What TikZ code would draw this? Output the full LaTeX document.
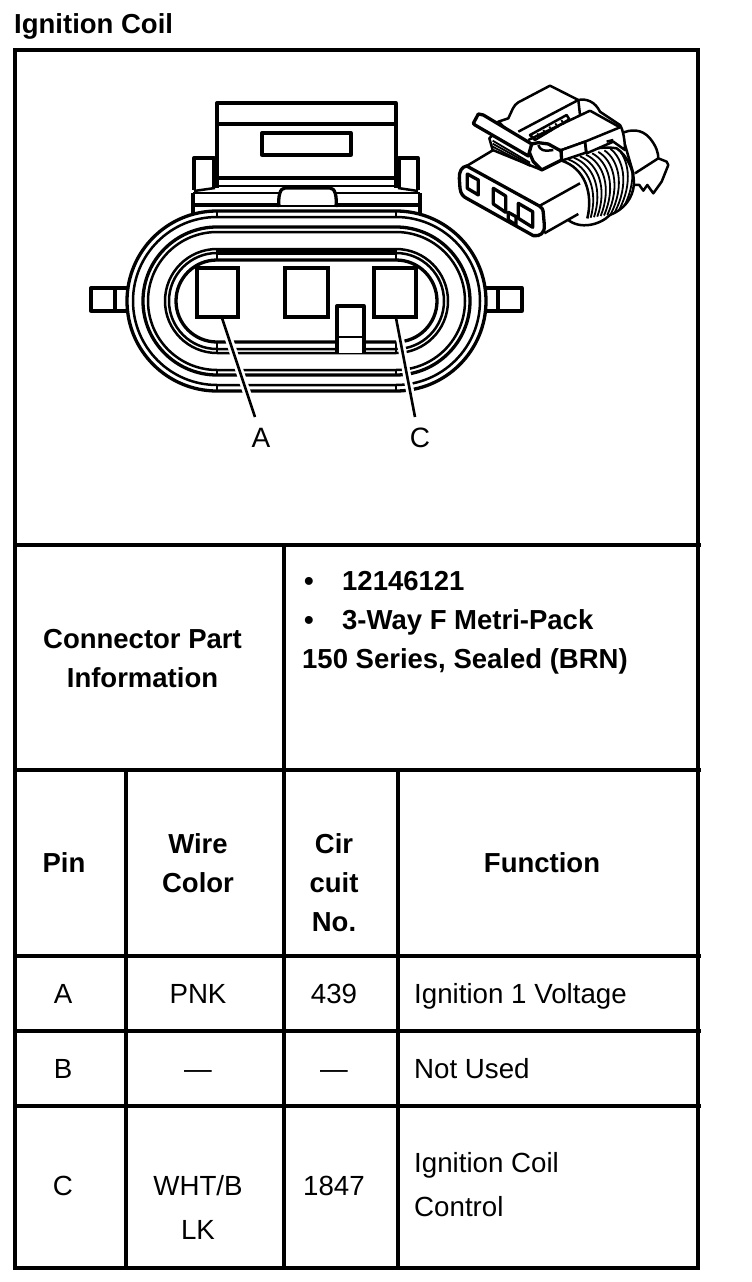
\documentclass[tikz,border=0pt]{standalone}
\usepackage{fontspec}
\setmainfont{Liberation Sans}
\tikzset{
 grid/.style={line width=3.4pt,black,line cap=rect},
 thick2/.style={line width=3.3pt,black,line join=round},
 med/.style={line width=2.5pt,black,line join=round},
 thin1/.style={line width=1.8pt,black,line join=round},
 hd/.style={font=\fontsize{27.5}{39}\selectfont\bfseries,align=center,inner sep=0pt,anchor=center},
 hl/.style={font=\fontsize{27.5}{33}\selectfont\bfseries,anchor=base west,inner sep=0pt},
 cell/.style={font=\fontsize{27.7}{44}\selectfont,inner sep=0pt,anchor=base},
 cellm/.style={font=\fontsize{27.7}{44}\selectfont,align=center,inner sep=0pt,anchor=center},
 celll/.style={font=\fontsize{27.7}{44}\selectfont,inner sep=0pt,anchor=base west},
 calloutline/.style={line width=2.6pt,black},
 halo/.style={line width=8pt,white},
 pinbox/.style={line width=3.3pt,black,fill=white},
 stad/.style={insert path={(217,301-#1) -- (396,301-#1) arc[start angle=-90,end angle=90,radius=#1] -- (217,301+#1) arc[start angle=90,end angle=270,radius=#1] -- cycle}},
}
\begin{document}
\begin{tikzpicture}[x=1pt,y=-1pt]
\useasboundingbox (0,0) rectangle (752,1282);
\node[hl] (title) at (14,33) {Ignition Coil};
% table
\draw[grid] (15,50) rectangle (698,1268);
\draw[grid] (15,545) -- (699,545);
\draw[grid] (15,770) -- (699,770);
\draw[grid] (15,956) -- (699,956);
\draw[grid] (15,1031) -- (699,1031);
\draw[grid] (15,1106) -- (699,1106);
\draw[grid] (284,545) -- (284,1268);
\draw[grid] (126,770) -- (126,1268);
\draw[grid] (398,770) -- (398,1268);
% table text
\node[hd] (cp) at (142.5,658.5) {Connector Part\\Information};
\node[hl] (b1) at (304,590) {•};
\node[hl] (t1) at (342,590) {12146121};
\node[hl] (b2) at (304,629) {•};
\node[hl] (t2) at (342,629) {3-Way F Metri-Pack};
\node[hl] (t3) at (302,668) {150 Series, Sealed (BRN)};
\node[hd] (h1) at (64,863) {Pin};
\node[hd] (h2) at (198,863) {Wire\\Color};
\node[hd] (h3) at (334,883) {Cir\\cuit\\No.};
\node[hd] (h4) at (542,863) {Function};
\node[cell] (a1) at (63,1003) {A};
\node[cell] (a2) at (198,1003) {PNK};
\node[cell] (a3) at (334,1003) {439};
\node[celll] (a4) at (414,1003) {Ignition 1 Voltage};
\node[cell] (b1c) at (63,1078) {B};
\node[cell] (b2c) at (198,1078) {—};
\node[cell] (b3c) at (334,1078) {—};
\node[celll] (b4c) at (414,1078) {Not Used};
\node[cell] (c1) at (63,1195) {C};
\node[cellm] (c2) at (198,1207) {WHT/B\\LK};
\node[cell] (c3) at (334,1195) {1847};
\node[cellm,align=left,anchor=west] (c4) at (414,1185) {Ignition Coil\\Control};
% front view: ears
\draw[thick2,fill=white] (91,288) rectangle (130,311);
\draw[thick2] (115,288) -- (115,311);
\draw[thick2,fill=white] (522,288) rectangle (483,311);
\draw[thick2] (498,288) -- (498,311);
% head
\draw[thick2,fill=white] (217,188) -- (217,103) -- (396,103) -- (396,188);
\draw[thick2] (217,124) -- (396,124);
\draw[thick2] (262,133) rectangle (351,155);
\draw[thick2] (217,178) -- (396,178);
\draw[med] (217,186) -- (396,186);
\draw[thick2] (214,188) -- (214,158) -- (194,158) -- (194,190);
\draw[thick2] (399,188) -- (399,158) -- (418,158) -- (418,190);
\draw[med] (194,191) -- (215,188);
\draw[med] (398,188) -- (418,191);
% band
\draw[thick2] (193,193) -- (193,213);
\draw[thick2] (420,193) -- (420,213);
\draw[med] (193,193) -- (279,193);
\draw[med] (336,193) -- (420,193);
\draw[thick2] (193,205) -- (279,205);
\draw[thick2] (336,205) -- (420,205);
\draw[thick2,fill=white] (279,207) .. controls (278,196) and (280,188) .. (285,188) -- (330,188) .. controls (335,188) and (337,196) .. (336,207);
\draw[med] (217,206) -- (396,206);
% rings
\draw[thick2,fill=white,stad=90];
\draw[med,stad=84];
\draw[thick2,stad=74];
\draw[med,stad=69];
\draw[med,stad=52];
\draw[med,stad=48];
\draw[thick2,stad=41];
\draw[line width=7pt] (217,251) -- (396,251);
% ticks
\foreach \xx in {217,396} {
 \draw[med] (\xx,211) -- (\xx,217);
 \draw[med] (\xx,249) -- (\xx,260);
 \draw[med] (\xx,342) -- (\xx,353);
 \draw[med] (\xx,370) -- (\xx,375);
 \draw[med] (\xx,385) -- (\xx,391);
}
% key and pins
\draw[thick2,fill=white] (337,353) -- (337,306) -- (364,306) -- (364,353);
\draw[med] (337,337) -- (364,337);
\draw[pinbox] (197,268) rectangle (238,317);
\draw[line width=1.5pt] (198,268) -- (198,317);
\draw[pinbox] (285,268) rectangle (328,317);
\draw[pinbox] (374,268) rectangle (416,317);
% callouts
\node[font=\fontsize{28}{30}\selectfont,inner sep=0pt,anchor=base] (la) at (261,447) {A};
\node[font=\fontsize{28}{30}\selectfont,inner sep=0pt,anchor=base] (lc) at (420,447) {C};
\coordinate (pa) at (222,318);
\coordinate (pc) at (396,318);
\coordinate (ea) at (255,417);
\coordinate (ec) at (415,417);
\draw[halo,shorten <=20pt] (pa) -- (ea);
\draw[halo,shorten <=20pt] (pc) -- (ec);
\draw[calloutline] (pa) -- (ea);
\draw[calloutline] (pc) -- (ec);
% perspective view
\begin{scope}[shift={(450,70)},x=0.3333pt,y=-0.3333pt]
% rear boot
\draw[med,fill=white] (515,190) .. controls (540,178) and (575,175) .. (600,205) .. controls (620,230) and (625,250) .. (625,265) -- (650,275) -- (655,285) -- (635,335) -- (610,370) -- (592,345) -- (580,362) -- (568,345) -- (548,345) -- (550,310) -- cycle;
\draw[med] (555,310) -- (625,265);
% seal body
\draw[med,fill=white] (330,275) .. controls (370,250) and (440,225) .. (500,235) .. controls (530,255) and (552,300) .. (552,340) .. controls (550,385) and (520,420) .. (480,435) .. controls (450,465) and (390,480) .. (352,448) -- (300,400) -- cycle;
\begin{scope}
\clip (330,275) .. controls (370,250) and (440,225) .. (500,235) .. controls (530,255) and (552,300) .. (552,340) .. controls (550,385) and (520,420) .. (480,435) .. controls (450,465) and (390,480) .. (352,448) -- (300,400) -- cycle;
\foreach \i in {0,1,2,3,4,5,6,7,8,9,10}{
 \draw[thin1] (335+18.3*\i,272-4.4*\i) .. controls (405+14*\i,295-4*\i) and (430+14*\i,370-4*\i) .. (412+10*\i,445-1.7*\i);
}
\end{scope}
% white top and side of the block, in front of the seal
\fill[white] (50,288) -- (130,240) -- (335,272) .. controls (405,295) and (430,370) .. (412,445) -- (385,432) -- (283,490) -- (250,497) -- cycle;
\draw[med] (335,272) .. controls (405,295) and (430,370) .. (412,445);
% rear housing
\draw[med,fill=white] (145,155) -- (175,145) .. controls (185,125) and (190,105) .. (205,97) -- (300,47) -- (385,90) .. controls (410,85) and (435,95) .. (450,125) -- (510,165) .. controls (520,180) and (525,215) .. (525,240) -- (490,215) -- (410,250) -- (405,215) -- (335,240) -- (235,240) -- cycle;
\draw[med] (385,90) -- (205,185);
\draw[med] (385,90) -- (390,135);
\draw[med] (420,122) -- (235,210);
\draw[med] (420,122) -- (510,172);
\draw[med] (240,195) -- (350,135) -- (358,148) -- (255,210) -- cycle;
\foreach \i in {0,1,2,3,4}{\draw[thin1] (262+\i*18,190-\i*10) -- (270+\i*18,203-\i*10);}
\draw[med] (510,172) -- (405,215);
\draw[med,fill=white] (335,240) -- (405,215) -- (408,248) -- (335,272) -- cycle;
\draw[med] (470,215) -- (490,210);
% main block
\draw[thick2,fill=white] (50,288) .. controls (35,290) and (27,305) .. (28,325) -- (30,355) .. controls (32,372) and (40,380) .. (50,385) -- (250,497) .. controls (270,500) and (285,490) .. (283,465) -- (280,430) .. controls (280,418) and (275,412) .. (268,408) -- cycle;
\draw[med] (268,408) -- (390,340);
\draw[med] (283,490) -- (385,432);
\draw[med] (50,288) -- (130,240);
\draw[thick2] (52,312) -- (85,330) -- (85,375) -- (52,355) -- cycle;
\draw[thick2] (130,355) -- (167,378) -- (167,427) -- (130,402) -- cycle;
\draw[thick2] (175,427) -- (198,440) -- (198,465) -- (175,450) -- cycle;
\draw[thick2] (205,400) -- (248,425) -- (248,472) -- (205,445) -- cycle;
% latch
\draw[med,fill=white] (118,205) -- (128,240) -- (275,300) -- (275,250) -- (150,175) -- cycle;
\foreach \i in {0,1,2}{\draw[thin1] (128,212+\i*9) -- (240,278+\i*5);}
\draw[thick2,fill=white] (235,240) -- (250,275) -- (275,300) -- (335,270) -- (333,243) -- (295,222) -- (265,218) -- (245,222) -- cycle;
\draw[thick2,fill=white] (70,160) -- (85,132) -- (100,135) -- (245,222) -- (235,258) -- (75,165) -- cycle;
\draw[med] (265,225) .. controls (270,240) and (280,245) .. (310,240);
\end{scope}
\end{tikzpicture}
\end{document}
